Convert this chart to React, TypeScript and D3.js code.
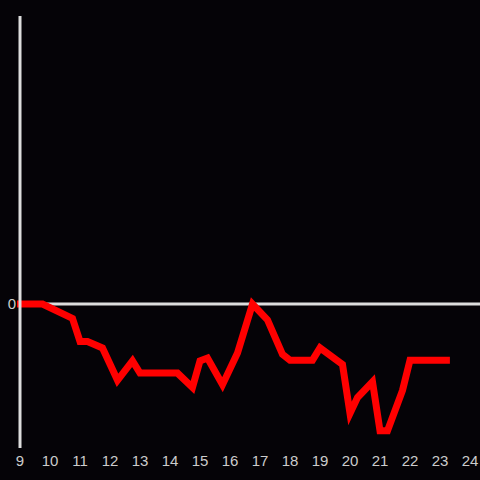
import React from "react";
import * as d3 from "d3";

const hours = [8.9, 9.75, 10.75, 11, 11.25, 11.75, 12.25, 12.75, 13, 14.25, 14.75, 15, 15.25, 15.75, 16.25, 16.75, 17.25, 17.75, 18, 18.75, 19, 19.75, 20, 20.25, 20.75, 21, 21.25, 21.75, 22, 23.33];
const values = [0, 0, -1.0, -2.6, -2.6, -3.05, -5.3, -3.95, -4.8, -4.8, -5.8, -3.95, -3.75, -5.6, -3.4, 0, -1.1, -3.5, -3.9, -3.9, -3.05, -4.2, -7.6, -6.5, -5.4, -8.8, -8.8, -6.0, -3.9, -3.9];
const xTicks = [9, 10, 11, 12, 13, 14, 15, 16, 17, 18, 19, 20, 21, 22, 23, 24];
const yTicks = [0];

export default function App() {
  const W = 480, H = 480;
  const x = d3.scaleLinear().domain([9, 24]).range([20, 470]);
  const y = d3.scaleLinear().domain([-10, 20]).range([448, 16]);
  const line = d3.line<number>().x((_, i) => x(hours[i])).y((d) => y(d));
  return (
    <div style={{ position: "fixed", left: 0, top: 0 }}>
      <svg width={W} height={H} style={{ display: "block", background: "#050307" }} fontFamily="Liberation Sans, Arial, sans-serif">
        <rect width={W} height={H} fill="#050307" />
        {yTicks.map((t) => (
          <g key={t}>
            <line x1={x(9)} x2={W} y1={y(t)} y2={y(t)} stroke="#dddddd" strokeWidth={3} />
            <text x={16} y={y(t)} dy="0.35em" textAnchor="end" fill="#cccccc" fontSize={15}>{t}</text>
          </g>
        ))}
        <path d={line(values) || ""} fill="none" stroke="#ff0000" strokeWidth={7} strokeLinejoin="miter" />
        <line x1={x(9)} x2={x(9)} y1={16} y2={448} stroke="#dddddd" strokeWidth={3} />
        {xTicks.map((t) => (
          <text key={t} x={x(t)} y={461} dy="0.35em" textAnchor="middle" fill="#cccccc" fontSize={15}>{t}</text>
        ))}
      </svg>
    </div>
  );
}
